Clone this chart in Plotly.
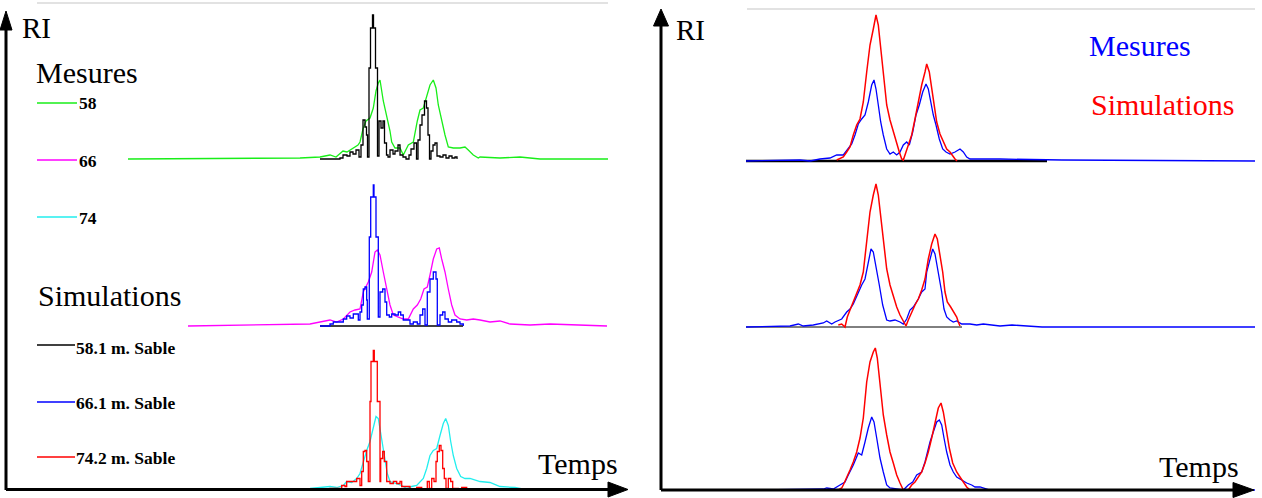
import plotly.graph_objects as go

W, H = 1262, 498

# ---------------- data (time in arbitrary units, RI in arbitrary units) ----------------
# Left panel, group 1 (58 m)
t_sim58 = [31.0, 33.0, 33.3, 33.7, 34.0, 34.3, 34.6, 34.9, 35.1, 35.3, 35.5, 35.65, 35.75, 35.9, 36.05, 36.25,
           36.35, 36.55, 36.75, 36.9, 37.1, 37.3, 37.45, 37.65, 37.8, 38.0, 38.3, 38.5, 38.8, 39.0, 39.3, 39.6,
           39.9, 40.1, 40.4, 40.65, 40.8, 41.0, 41.2, 41.45, 41.65, 41.8, 41.95, 42.1, 42.3, 42.5, 42.7, 43.0,
           43.3, 43.6, 43.9, 44.2, 44.5, 44.7]
ri_sim58 = [0, 0.01, 0.04, 0.03, 0.07, 0.05, 0.09, 0.02, 0.14, 0.39, 0.32, 0.24, 0.02, 0.91, 1.31, 1.44,
            1.31, 0.91, 0.03, 0.38, 0.31, 0.38, 0.16, 0.04, 0.02, 0.09, 0.05, 0.08, 0.14, 0.04, 0.02, 0.0,
            0.04, 0.1, 0.16, 0.0, 0.19, 0.34, 0.44, 0.58, 0.51, 0.24, 0.0, 0.08, 0.14, 0.16, 0.03, 0.02,
            0.04, 0.01, 0.03, 0.01, 0.02, 0]
t_mes58 = [11.8, 29.0, 31.0, 31.5, 32.0, 32.6, 33.0, 33.3, 33.7, 34.0, 34.5, 34.8, 35.0, 35.3, 35.6, 36.0,
           36.33, 36.6, 36.83, 37.0, 37.33, 37.67, 37.83, 38.0, 38.17, 38.5, 39.0, 39.33, 39.83, 40.33, 40.73,
           41.0, 41.33, 41.67, 42.0, 42.33, 42.6, 42.83, 43.17, 43.5, 43.83, 44.33, 45.0, 45.5, 45.83, 46.33,
           46.83, 47.0, 49.0, 51.0, 53.0, 59.8]
ri_mes58 = [0, 0.01, 0.02, 0.03, 0.04, 0.02, 0.05, 0.08, 0.07, 0.09, 0.12, 0.14, 0.17, 0.30, 0.38, 0.41,
            0.51, 0.68, 0.76, 0.79, 0.58, 0.44, 0.38, 0.28, 0.17, 0.11, 0.11, 0.04, 0.14, 0.17, 0.38,
            0.49, 0.51, 0.63, 0.74, 0.79, 0.71, 0.54, 0.38, 0.24, 0.12, 0.11, 0.11, 0.12, 0.09, 0.04,
            0.01, 0.02, 0.01, 0.02, 0.0, 0]

# Left panel, group 2 (66 m)
t_sim66 = [31.0, 32.0, 32.33, 33.33, 33.67, 34.0, 34.33, 34.83, 35.0, 35.17, 35.33, 35.5, 35.67, 35.73, 35.93,
           36.07, 36.33, 36.4, 36.6, 36.83, 37.0, 37.27, 37.5, 37.67, 37.93, 38.17, 38.5, 38.83, 39.07, 39.33,
           40.0, 40.33, 40.73, 41.0, 41.27, 41.5, 41.73, 42.0, 42.33, 42.6, 42.73, 43.0, 43.27, 43.5, 43.83,
           44.17, 44.67, 45.0, 45.33]
ri_sim66 = [0, 0.02, 0.04, 0.07, 0.1, 0.08, 0.12, 0.06, 0.14, 0.21, 0.37, 0.39, 0.26, 0.07, 0.89,
            1.29, 1.41, 1.29, 0.89, 0.09, 0.34, 0.37, 0.24, 0.11, 0.09, 0.12, 0.11, 0.14, 0.11, 0.06,
            0.02, 0.04, 0.02, 0.11, 0.17, 0.01, 0.34, 0.47, 0.54, 0.47, 0.01, 0.11, 0.14, 0.07, 0.04,
            0.06, 0.04, 0.02, 0.0]
t_mes66 = [17.8, 25.0, 30.0, 32.0, 32.67, 33.33, 34.0, 34.5, 35.0, 35.33, 35.83, 36.17, 36.5, 36.73, 37.0,
           37.33, 37.67, 38.0, 38.33, 38.83, 39.33, 39.83, 40.33, 40.73, 41.07, 41.4, 41.73, 42.0, 42.33,
           42.67, 42.93, 43.17, 43.5, 43.83, 44.17, 44.5, 45.0, 45.67, 46.33, 47.0, 48.0, 49.0, 50.0, 52.0,
           54.0, 59.7]
ri_mes66 = [0, 0.01, 0.02, 0.06, 0.04, 0.07, 0.14, 0.16, 0.17, 0.34, 0.44, 0.54, 0.74, 0.76, 0.71,
            0.54, 0.37, 0.21, 0.11, 0.09, 0.07, 0.07, 0.17, 0.21, 0.27, 0.37, 0.39, 0.51, 0.67,
            0.77, 0.78, 0.67, 0.54, 0.37, 0.21, 0.11, 0.07, 0.06, 0.07, 0.06, 0.04, 0.05, 0.02, 0.01,
            0.02, 0]

# Left panel, group 3 (74 m)
t_sim74 = [31.0, 32.0, 33.17, 33.5, 33.67, 34.17, 34.67, 35.0, 35.17, 35.33, 35.5, 35.67, 35.83, 36.0, 36.1,
           36.33, 36.43, 36.73, 37.0, 37.07, 37.27, 37.43, 37.67, 38.0, 38.33, 38.67, 39.0, 39.17, 40.0, 40.67,
           41.17, 41.73, 41.93, 42.17, 42.4, 42.6, 42.73, 42.93, 43.1, 43.27, 43.43, 43.6, 43.83, 44.07, 44.27,
           44.83, 45.17, 45.67, 46.0]
ri_sim74 = [0, 0.01, 0.04, 0.03, 0.08, 0.08, 0.11, 0.04, 0.18, 0.38, 0.39, 0.28, 0.08, 0.88, 1.28,
            1.39, 1.28, 0.88, 0.08, 0.31, 0.38, 0.28, 0.08, 0.06, 0.08, 0.06, 0.08, 0.03, 0.0, 0.02,
            0.0, 0.08, 0.01, 0.11, 0.08, 0.28, 0.38, 0.44, 0.39, 0.21, 0.11, 0.01, 0.11, 0.08, 0.01,
            0.0, 0.02, 0.0, 0.0]
t_mes74 = [14.0, 30.0, 32.0, 32.67, 33.33, 33.67, 34.17, 34.67, 35.0, 35.33, 35.67, 36.0, 36.33, 36.6, 36.83,
           37.0, 37.27, 37.5, 37.73, 38.0, 38.67, 39.17, 39.67, 40.17, 40.67, 41.0, 41.33, 41.67, 42.0, 42.33,
           42.67, 43.0, 43.33, 43.57, 43.83, 44.07, 44.33, 44.67, 45.07, 45.5, 46.0, 47.0, 48.0, 49.0, 50.5,
           51.5, 59.7]
ri_mes74 = [0, 0.01, 0.03, 0.02, 0.04, 0.08, 0.07, 0.11, 0.16, 0.28, 0.39, 0.48, 0.61, 0.73, 0.71,
            0.61, 0.44, 0.28, 0.16, 0.08, 0.06, 0.04, 0.01, 0.03, 0.04, 0.08, 0.11, 0.21, 0.34, 0.39,
            0.41, 0.54, 0.66, 0.71, 0.64, 0.48, 0.34, 0.21, 0.13, 0.11, 0.11, 0.08, 0.07, 0.03, 0.02,
            0.0, 0]

# Right panel, top
t_rsim1 = [17.47, 18.13, 18.47, 18.8, 19.13, 19.47, 19.8, 20.13, 20.47, 20.8, 21.13, 21.4, 21.63, 21.87,
           22.13, 22.47, 22.8, 23.13, 23.47, 23.73, 23.97, 24.13, 24.4, 24.63, 24.97, 25.3, 25.63, 25.97,
           26.3, 26.47, 26.73, 26.97, 27.2, 27.47, 27.8, 28.13, 28.47, 28.8, 29.13, 29.3, 29.5]
ri_rsim1 = [0.01, 0.04, 0.09, 0.14, 0.26, 0.36, 0.42, 0.59, 0.89, 1.16, 1.32, 1.46, 1.36, 1.12,
            0.86, 0.56, 0.41, 0.29, 0.19, 0.09, 0.02, 0.01, 0.09, 0.16, 0.26, 0.42, 0.59, 0.76,
            0.89, 0.97, 0.89, 0.72, 0.56, 0.39, 0.27, 0.19, 0.12, 0.09, 0.04, 0.02, 0.0]
t_rmes1 = [8.4, 12.8, 13.8, 14.8, 15.8, 16.8, 17.47, 18.13, 18.63, 18.97, 19.3, 19.63, 19.97, 20.3, 20.63,
           20.97, 21.2, 21.4, 21.63, 21.87, 22.13, 22.47, 22.8, 23.13, 23.47, 23.8, 24.13, 24.47, 24.73,
           25.07, 25.4, 25.73, 26.07, 26.4, 26.63, 26.87, 27.13, 27.4, 27.73, 28.07, 28.4, 28.8, 29.3, 29.8,
           30.13, 30.47, 30.8, 33.8, 40.0, 59.3]
ri_rmes1 = [0.0, 0.01, 0.01, 0.0, 0.02, 0.03, 0.06, 0.06, 0.12, 0.17, 0.26, 0.37, 0.42, 0.46, 0.59,
            0.76, 0.81, 0.72, 0.56, 0.39, 0.26, 0.12, 0.07, 0.09, 0.06, 0.09, 0.16, 0.19, 0.16,
            0.29, 0.46, 0.56, 0.69, 0.77, 0.72, 0.59, 0.46, 0.36, 0.22, 0.12, 0.09, 0.07, 0.09, 0.12,
            0.09, 0.04, 0.02, 0.02, 0.01, 0.0]

# Right panel, middle
t_rsim2 = [17.63, 17.97, 18.3, 18.53, 18.8, 19.13, 19.47, 19.8, 20.13, 20.47, 20.8, 21.13, 21.4, 21.63,
           21.87, 22.13, 22.47, 22.8, 23.13, 23.47, 23.8, 24.13, 24.4, 24.63, 24.97, 25.3, 25.63, 25.97,
           26.3, 26.63, 26.97, 27.3, 27.53, 27.8, 28.07, 28.3, 28.53, 28.87, 29.13, 29.47, 29.63, 29.8]
ri_rsim2 = [0.02, 0.03, 0.0, 0.1, 0.17, 0.25, 0.35, 0.42, 0.55, 0.85, 1.15, 1.32, 1.43, 1.32,
            1.12, 0.85, 0.58, 0.42, 0.3, 0.2, 0.12, 0.05, 0.01, 0.07, 0.15, 0.22, 0.28, 0.37,
            0.48, 0.68, 0.83, 0.93, 0.88, 0.72, 0.55, 0.35, 0.25, 0.2, 0.15, 0.1, 0.05, 0.01]
t_rmes2 = [8.4, 12.8, 13.63, 14.13, 15.13, 16.13, 16.47, 16.97, 17.3, 17.97, 18.47, 18.8, 19.13, 19.63,
           19.97, 20.3, 20.63, 20.9, 21.13, 21.4, 21.73, 22.07, 22.47, 22.8, 23.3, 23.8, 24.13, 24.47, 24.8,
           25.13, 25.63, 25.97, 26.3, 26.47, 26.8, 27.07, 27.3, 27.63, 27.97, 28.2, 28.47, 28.8, 29.13,
           29.47, 29.97, 30.8, 31.47, 32.13, 32.8, 33.8, 35.0, 38.0, 59.3]
ri_rmes2 = [0.0, 0.01, 0.03, 0.01, 0.02, 0.04, 0.06, 0.03, 0.05, 0.08, 0.15, 0.18, 0.23, 0.35,
            0.42, 0.48, 0.65, 0.78, 0.75, 0.58, 0.42, 0.22, 0.07, 0.06, 0.07, 0.05, 0.03, 0.08, 0.17,
            0.2, 0.28, 0.35, 0.38, 0.55, 0.68, 0.78, 0.73, 0.55, 0.35, 0.18, 0.1, 0.07, 0.05,
            0.06, 0.03, 0.03, 0.02, 0.03, 0.02, 0.01, 0.02, 0.0, 0.0]

# Right panel, bottom
t_rsim3 = [17.63, 17.97, 18.13, 18.47, 18.8, 19.13, 19.47, 19.8, 20.13, 20.47, 20.8, 21.13, 21.33, 21.53,
           21.8, 22.13, 22.47, 22.8, 23.13, 23.47, 23.8, 24.13, 24.63, 24.97, 25.3, 25.63, 25.97, 26.3,
           26.63, 26.97, 27.3, 27.63, 27.9, 28.13, 28.4, 28.73, 29.07, 29.47, 29.8, 30.13, 30.47, 30.8]
ri_rsim3 = [0.0, 0.02, 0.05, 0.12, 0.2, 0.28, 0.38, 0.52, 0.72, 1.08, 1.28, 1.38, 1.42, 1.32,
            1.05, 0.75, 0.55, 0.38, 0.27, 0.15, 0.07, 0.0, 0.0, 0.05, 0.08, 0.13, 0.18, 0.27,
            0.38, 0.52, 0.68, 0.82, 0.87, 0.78, 0.62, 0.42, 0.27, 0.18, 0.13, 0.08, 0.03, 0.0]
t_rmes3 = [8.4, 16.13, 16.47, 17.13, 17.8, 18.3, 18.63, 19.13, 19.63, 19.97, 20.3, 20.63, 20.97, 21.2,
           21.47, 21.8, 22.13, 22.47, 22.8, 23.47, 24.13, 24.63, 25.07, 25.47, 25.97, 26.3, 26.53, 26.8,
           27.13, 27.47, 27.73, 27.97, 28.2, 28.47, 28.8, 29.13, 29.47, 29.97, 30.47, 30.97, 31.3, 31.8,
           32.13, 32.8, 59.3]
ri_rmes3 = [0.0, 0.01, 0.02, 0.01, 0.05, 0.08, 0.15, 0.25, 0.37, 0.35, 0.48, 0.62, 0.73, 0.68,
            0.52, 0.32, 0.18, 0.05, 0.02, 0.01, 0.0, 0.05, 0.08, 0.15, 0.18, 0.28, 0.38, 0.48,
            0.58, 0.68, 0.7, 0.65, 0.52, 0.38, 0.25, 0.18, 0.13, 0.1, 0.07, 0.05, 0.03, 0.03,
            0.02, 0.0, 0.0]

legend_mes = ["58", "66", "74"]
legend_sim = ["58.1 m. Sable", "66.1 m. Sable", "74.2 m. Sable"]

# ---------------- styling ----------------
GREEN, MAGENTA, CYAN = "#18ee18", "#ff00ff", "#22eeee"
BLACK, BLUE, RED = "#000000", "#0000ff", "#ff0000"
SERIF = "Liberation Serif, Times New Roman, serif"


def fx(p):
    return p / W


def fy(p):
    return 1 - p / H


# panel geometry in pixels: (x0, x1, time range end), baseline y
LEFT = (10, 630, 62.0)
RIGHT = (662, 1255, 59.3)
groups = [
    (LEFT, 159), (LEFT, 326), (LEFT, 489.5),
    (RIGHT, 161), (RIGHT, 327), (RIGHT, 490),
]

fig = go.Figure()
layout_axes = {}
for i, ((x0, x1, tmax), base) in enumerate(groups, start=1):
    suf = "" if i == 1 else str(i)
    layout_axes["xaxis" + suf] = dict(domain=[fx(x0), fx(x1)], range=[0, tmax], visible=False,
                                      anchor="y" + suf, fixedrange=True)
    layout_axes["yaxis" + suf] = dict(domain=[fy(base + 5), fy(base - 150)], range=[-0.05, 1.5],
                                      visible=False, anchor="x" + suf, fixedrange=True)

series = [
    (1, t_mes58, ri_mes58, GREEN, "linear", 1.3),
    (1, t_sim58, ri_sim58, BLACK, "hv", 1.3),
    (2, t_mes66, ri_mes66, MAGENTA, "linear", 1.3),
    (2, t_sim66, ri_sim66, BLUE, "hv", 1.3),
    (3, t_mes74, ri_mes74, CYAN, "linear", 1.3),
    (3, t_sim74, ri_sim74, RED, "hv", 1.3),
    (4, t_rmes1, ri_rmes1, BLUE, "linear", 1.3),
    (4, t_rsim1, ri_rsim1, RED, "linear", 1.5),
    (5, t_rmes2, ri_rmes2, BLUE, "linear", 1.3),
    (5, t_rsim2, ri_rsim2, RED, "linear", 1.5),
    (6, t_rmes3, ri_rmes3, BLUE, "linear", 1.3),
    (6, t_rsim3, ri_rsim3, RED, "linear", 1.5),
]
for g, t, v, col, shape, w in series:
    assert len(t) == len(v), (g, len(t), len(v))
    suf = "" if g == 1 else str(g)
    fig.add_trace(go.Scatter(x=t, y=v, mode="lines", line=dict(color=col, width=w, shape=shape),
                             xaxis="x" + suf, yaxis="y" + suf, showlegend=False, hoverinfo="skip"))

shapes = []
# baselines (zero lines) drawn in data units
shapes.append(dict(type="line", xref="x2", yref="y2", x0=31.0, x1=45.3, y0=0, y1=0,
                   line=dict(color=BLACK, width=1.5), layer="below"))
shapes.append(dict(type="line", xref="x4", yref="y4", x0=8.4, x1=38.5, y0=0, y1=0,
                   line=dict(color=BLACK, width=2.5), layer="below"))
shapes.append(dict(type="line", xref="x5", yref="y5", x0=8.4, x1=30.0, y0=0, y1=0,
                   line=dict(color=BLACK, width=1), layer="below"))


def pline(x0, y0, x1, y1, color, width):
    shapes.append(dict(type="line", xref="paper", yref="paper", x0=fx(x0), y0=fy(y0), x1=fx(x1), y1=fy(y1),
                       line=dict(color=color, width=width)))


def tri(pts):
    d = "M " + " L ".join(f"{fx(a)},{fy(b)}" for a, b in pts) + " Z"
    shapes.append(dict(type="path", xref="paper", yref="paper", path=d, fillcolor=BLACK,
                       line=dict(color=BLACK, width=1)))


# faint top border lines
pline(37, 3, 608, 3, "#d9d9d9", 1.5)
pline(747, 9, 1255, 9, "#d9d9d9", 1.5)
# left axes with arrows
pline(6, 490, 6, 28, BLACK, 3)
tri([(0, 30), (12, 30), (6, 11)])
pline(6, 489.5, 612, 489.5, BLACK, 3)
tri([(608, 482), (608, 497), (628, 489.5)])
# right axes with arrows
pline(661, 490, 661, 24, BLACK, 3)
tri([(653.5, 26), (668.5, 26), (661, 9)])
pline(661, 490, 1237, 490, BLACK, 3)
tri([(1233, 482.5), (1233, 497.5), (1254, 490)])

# legend line samples (left panel)
for yy, col in zip([103, 160, 217], [GREEN, MAGENTA, CYAN]):
    pline(37, yy, 77, yy, col, 1.3)
for yy, col in zip([345, 402, 457], [BLACK, BLUE, RED]):
    pline(37, yy, 75, yy, col, 1.3)

annotations = []


def text(s, x, y, size, color=BLACK, bold=False):
    annotations.append(dict(text=f"<b>{s}</b>" if bold else s, xref="paper", yref="paper",
                            x=fx(x), y=fy(y), xanchor="left", yanchor="middle", showarrow=False,
                            font=dict(family=SERIF, size=size, color=color)))


text("RI", 20, 28, 29)
text("Mesures", 34, 72, 30)
for s, yy in zip(legend_mes, [103, 161, 218]):
    text(s, 77, yy, 17.5, bold=True)
text("Simulations", 36, 295, 30)
for s, yy in zip(legend_sim, [348, 403, 458]):
    text(s, 74, yy, 17.5, bold=True)
text("Temps", 536, 463, 30)
text("RI", 674, 30, 29)
text("Mesures", 1087, 45, 30, BLUE)
text("Simulations", 1089, 105, 30, RED)
text("Temps", 1157, 466, 30)

fig.update_layout(
    width=W, height=H, margin=dict(l=0, r=0, t=0, b=0),
    paper_bgcolor="white", plot_bgcolor="rgba(0,0,0,0)",
    shapes=shapes, annotations=annotations, showlegend=False,
    **layout_axes,
)
fig.write_html("out.html", config={"displayModeBar": False})
